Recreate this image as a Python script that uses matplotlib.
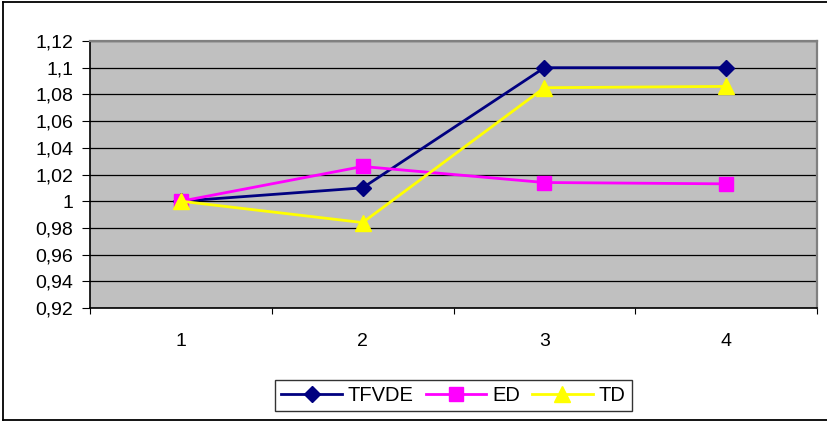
import matplotlib.pyplot as plt
from matplotlib.ticker import FuncFormatter
from matplotlib.lines import Line2D

plt.rcParams['font.family'] = ['Liberation Sans', 'DejaVu Sans']

# series values per step
steps = [1, 2, 3, 4]
tfvde = [1.0, 1.01, 1.10, 1.10]
ed = [1.0, 1.026, 1.014, 1.013]
td = [1.0, 0.984, 1.085, 1.086]

fig = plt.figure(figsize=(8.27, 4.21), dpi=100)
ax = fig.add_axes([90 / 827, 1 - 308 / 421, 727 / 827, 267 / 421])

# outer chart frame (right side runs off the canvas)
for xs, ys in [([3, 830], [2, 2]), ([3, 830], [419.5, 419.5]), ([3, 3], [2, 419.5])]:
    fig.add_artist(Line2D([x / 827 for x in xs], [1 - y / 421 for y in ys],
                          color='black', lw=1.3))

ax.set_facecolor('#C0C0C0')
ax.plot(steps, tfvde, color='#000080', lw=2, marker='D', ms=8, label='TFVDE')
ax.plot(steps, ed, color='#FF00FF', lw=2, marker='s', ms=10, label='ED')
ax.plot(steps, td, color='#FFFF00', lw=2, marker='^', ms=11, label='TD')

ax.set_xlim(0.5, 4.5)
ax.set_ylim(0.92, 1.12)
yt = [0.92 + 0.02 * i for i in range(11)]
ax.set_yticks(yt)
ax.yaxis.set_major_formatter(FuncFormatter(lambda v, p: ('%.2f' % v).rstrip('0').rstrip('.').replace('.', ',')))
ax.grid(axis='y', color='black', lw=0.9)
ax.set_axisbelow(True)

# category labels sit between the tick marks
ax.set_xticks([0.5, 1.5, 2.5, 3.5, 4.5])
ax.set_xticklabels([])
ax.set_xticks(steps, minor=True)
ax.set_xticklabels([str(s) for s in steps], minor=True)
ax.tick_params(axis='x', which='minor', length=0, pad=18, labelsize=14)
ax.tick_params(axis='x', which='major', length=4, direction='out', color='black')
ax.tick_params(axis='y', length=6, direction='out', labelsize=14, pad=6)

for side in ['top', 'right']:
    ax.spines[side].set_color('#808080')
    ax.spines[side].set_linewidth(1.6)
for side in ['left', 'bottom']:
    ax.spines[side].set_color('black')
    ax.spines[side].set_linewidth(1.2)

leg = fig.legend(loc='center', bbox_to_anchor=(453.5 / 827, 1 - 395.5 / 421), ncol=3,
                 frameon=True, fancybox=False, edgecolor='black', fontsize=14.5,
                 handlelength=3.0, columnspacing=0.6, handletextpad=0.3,
                 borderpad=0.32)
leg.get_frame().set_linewidth(1.0)

fig.savefig('out.png', dpi=100)
